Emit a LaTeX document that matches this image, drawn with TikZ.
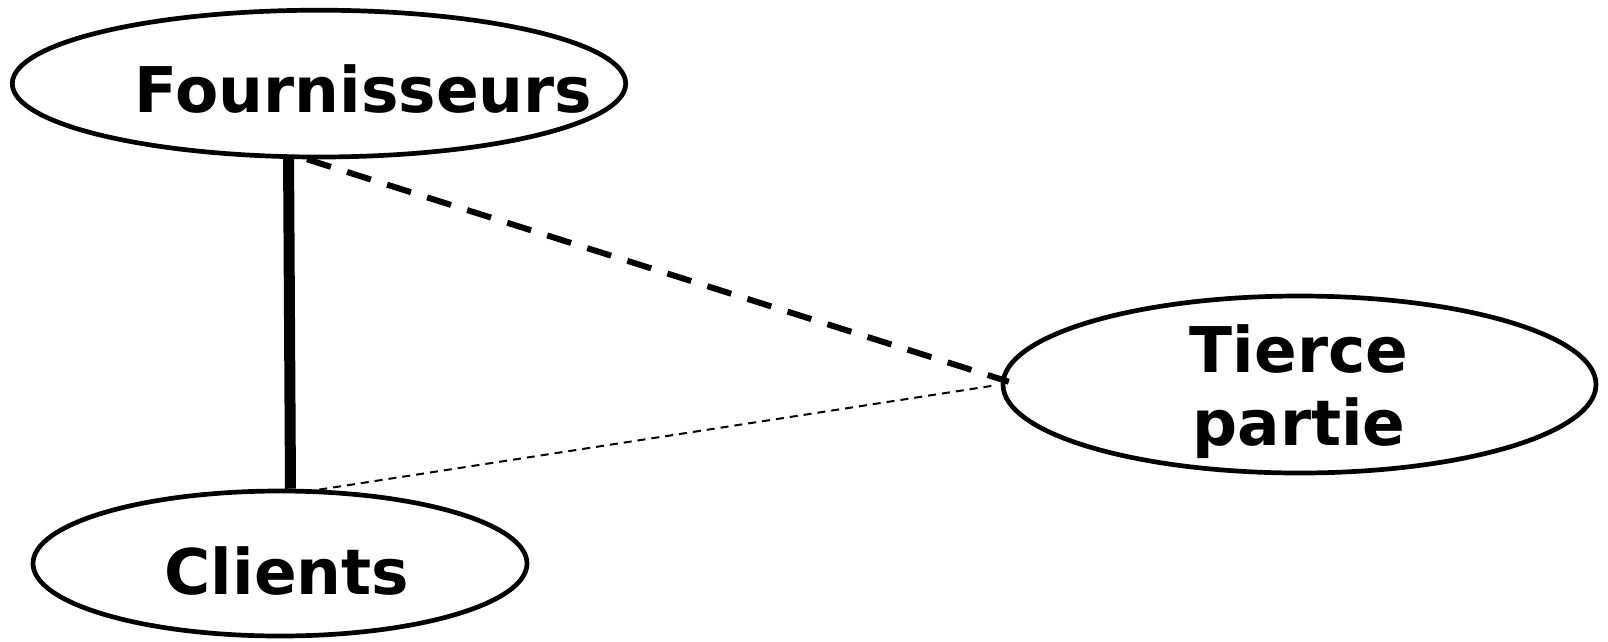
\documentclass[tikz,border=0pt]{standalone}
\usepackage{fontspec}
\setmainfont{DejaVu Sans}
\usetikzlibrary{shapes.geometric}
\begin{document}
\begin{tikzpicture}[x=1pt,y=-1pt,
  ent/.style={draw=black, line width=4.7pt, ellipse, inner sep=0pt},
  lbl/.style={inner sep=0pt, font=\fontsize{63}{73}\selectfont\bfseries, align=center},
  strong/.style={draw=black, line width=11pt},
  dashlink/.style={draw=black, line width=6pt, dash pattern=on 25pt off 17pt},
  finelink/.style={draw=black, line width=2pt, dash pattern=on 8pt off 6pt}]
\useasboundingbox (0,0) rectangle (1608,641);
\node[ent, minimum width=613.4pt, minimum height=146.8pt] (F) at (319,83.6) {};
\node[ent, minimum width=494pt, minimum height=145pt] (C) at (280,563.5) {};
\node[ent, minimum width=593pt, minimum height=177pt] (T) at (1299.5,384.5) {};
\node[lbl, anchor=base] (Ft) at (363.5,112) {Fournisseurs};
\node[lbl, anchor=base] (Ct) at (287,594.5) {Clients};
\node[lbl, anchor=base] (Tt) at (1299,445) {Tierce\\partie};
\draw[strong] (F.248.4) -- (C.82);
\draw[dashlink, shorten >=-8pt] (F.261) -- (T.179);
\draw[finelink, shorten >=6pt] (C.62) -- (T.180);
\end{tikzpicture}
\end{document}
